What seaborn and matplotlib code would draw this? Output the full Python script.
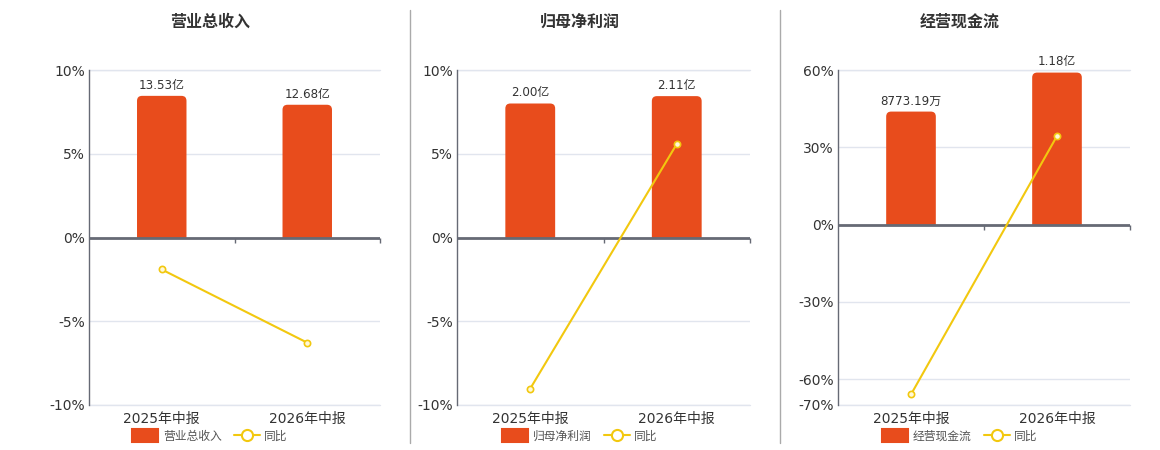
import numpy as np
import matplotlib
matplotlib.use('Agg')
import matplotlib.pyplot as plt
import seaborn as sns
from matplotlib.patches import FancyBboxPatch, Rectangle, Patch, BoxStyle
from matplotlib.lines import Line2D

# chart data
periods = ['2025年中报', '2026年中报']

titles = ['营业总收入', '归母净利润', '经营现金流']
revenue = [13.53, 12.68]          # 亿
revenue_yoy = [-1.91, -6.28]      # %
profit = [2.00, 2.11]             # 亿
profit_yoy = [-9.02, 5.58]
cashflow = [0.877319, 1.18]       # 亿
cashflow_yoy = [-65.9, 34.4]

pct_ticks = [[-10, -5, 0, 5, 10], [-10, -5, 0, 5, 10], [-70, -60, -30, 0, 30, 60]]
bar_tops = [16, 2.5, 1.2]         # top of the hidden amount axis

BAR = '#E84C1C'
LINE = '#F2C80F'
DARK = '#666a75'
GRID = '#e1e5ee'
TXT = '#333333'

W, H = 1160, 450
lefts = [89, 457, 838]
widths = [291, 293, 292]
centers = [210, 580, 960]


def amount_label(v):
    if v < 1:
        return '{:.2f}万'.format(v * 1e4)
    return '{:.2f}亿'.format(v)


sns.set_theme(style='white')
plt.rcParams['font.family'] = ['DejaVu Sans', 'Noto Sans CJK SC']

fig = plt.figure(figsize=(W / 100, H / 100), dpi=100)

series = [(revenue, revenue_yoy), (profit, profit_yoy), (cashflow, cashflow_yoy)]

for i, (values, yoy) in enumerate(series):
    ax_w, ax_h = widths[i], 335
    ax_bar = fig.add_axes([lefts[i] / W, 45 / H, ax_w / W, ax_h / H])
    sns.barplot(x=periods, y=values, ax=ax_bar, color=BAR, width=0.34, saturation=1)

    ax_line = ax_bar.twinx()
    sns.lineplot(x=np.arange(len(periods)), y=yoy, ax=ax_line, color=LINE, lw=1.5,
                 marker='o', markersize=4.5, markerfacecolor='#fff8d8',
                 markeredgecolor=LINE, markeredgewidth=1.2, zorder=5)

    pmin, pmax = min(pct_ticks[i]), max(pct_ticks[i])
    top = bar_tops[i]
    bottom = top * pmin / pmax
    ax_bar.set_xlim(-0.5, len(periods) - 0.5)
    ax_bar.set_ylim(bottom, top)
    ax_line.set_ylim(pmin, pmax)

    # grid on the bar axis, lined up with the percent ticks
    grid_pos = np.array(pct_ticks[i]) * top / pmax
    ax_bar.set_yticks(grid_pos)
    ax_bar.yaxis.grid(True, color=GRID, lw=1)
    ax_bar.set_axisbelow(True)
    for g in [grid_pos.min(), grid_pos.max()]:
        ax_bar.axhline(g, color=GRID, lw=1, zorder=0, clip_on=False)
    ax_bar.tick_params(axis='y', left=False, right=False, labelleft=False, labelright=False)
    ax_bar.tick_params(axis='x', length=0, labelsize=10, colors=TXT, pad=5)
    ax_bar.set_xlabel('')
    ax_bar.set_ylabel('')
    for s in ax_bar.spines.values():
        s.set_visible(False)

    ax_line.yaxis.tick_left()
    ax_line.set_yticks(pct_ticks[i])
    ax_line.set_yticklabels(['{}%'.format(t) for t in pct_ticks[i]])
    ax_line.tick_params(axis='y', length=0, labelsize=10, colors=TXT, pad=3,
                        labelleft=True, labelright=False)
    ax_line.set_ylabel('')
    for name, s in ax_line.spines.items():
        s.set_visible(name == 'left')
    ax_line.spines['left'].set_color(DARK)
    ax_line.spines['left'].set_linewidth(1)

    ax_line.axhline(0, color=DARK, lw=2, zorder=1)
    tick_len = 5 / ax_h * (pmax - pmin)
    ax_line.vlines([0.5, 1.5], -tick_len, 0, color=DARK, lw=1, zorder=1, clip_on=False)

    # rounded tops for the bars
    xppu = ax_w / (len(periods))
    yppu = ax_h / (top - bottom)
    rx, ry = 5 / xppu, 5 / yppu
    for p in list(ax_bar.patches):
        x, w, h = p.get_x(), p.get_width(), p.get_height()
        p.remove()
        fb = FancyBboxPatch((x, -ry), w, h + ry,
                            boxstyle=BoxStyle.Round(pad=0, rounding_size=rx),
                            mutation_aspect=ry / rx, fc=BAR, ec='none', zorder=2)
        ax_bar.add_patch(fb)
        clip = Rectangle((x - 1, 0), w + 2, h * 2, transform=ax_bar.transData)
        fb.set_clip_path(clip)
        ax_bar.annotate(amount_label(h), (x + w / 2, h), xytext=(0, 3),
                        textcoords='offset points', ha='center', va='bottom',
                        fontsize=8.6, color=TXT)

    fig.text(centers[i] / W, 1 - 22 / H, titles[i], ha='center', va='center',
             fontsize=11.5, fontweight='bold', color=TXT)

    handles = [Patch(facecolor=BAR, edgecolor=BAR, lw=1.5, joinstyle='round', label=titles[i]),
               Line2D([], [], color=LINE, lw=1.5, marker='o', markersize=8,
                      markerfacecolor='white', markeredgecolor=LINE, markeredgewidth=1.5,
                      label='同比')]
    fig.legend(handles=handles, loc='center', bbox_to_anchor=(centers[i] / W, 1 - 436 / H),
               ncol=2, frameon=False, fontsize=8.5, handlelength=2.2, handleheight=1.2,
               columnspacing=1.0, handletextpad=0.4, labelcolor='#555555',
               borderpad=0, borderaxespad=0)

# panel separators
for xs in [410, 780]:
    fig.add_artist(Line2D([xs / W, xs / W], [1 - 10 / H, 1 - 443 / H], color='#aaaaaa', lw=1))

fig.savefig('out.png', dpi=100)
